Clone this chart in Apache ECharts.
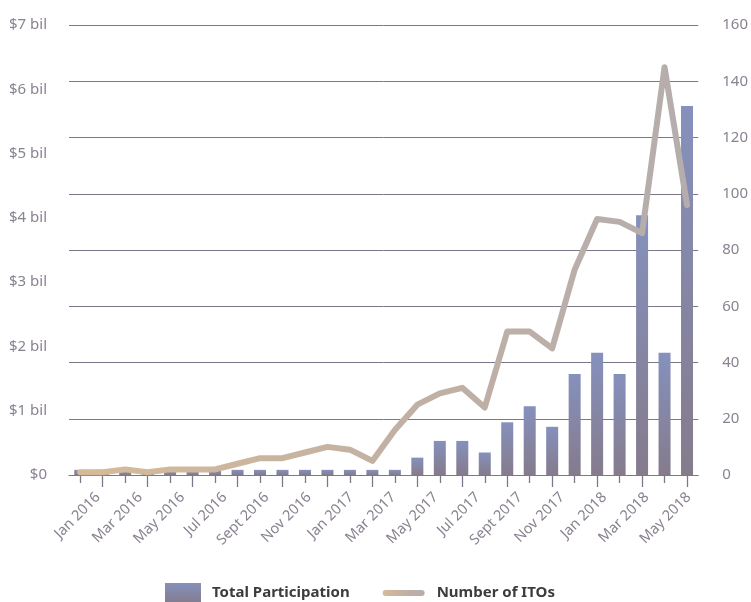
<!DOCTYPE html>
<html>
<head>
<meta charset="utf-8">
<script src="https://cdn.jsdelivr.net/npm/echarts@6/dist/echarts.min.js"></script>
<style>
  html, body { margin: 0; padding: 0; background: #fff; }
  #chart { width: 751px; height: 602px; }
</style>
</head>
<body>
<div id="chart"></div>
<script>
// 28 monthly periods (one bar each)
var periods = ['Jan 2016', 'Feb 2016', 'Mar 2016', 'Apr 2016', 'May 2016', 'Jun 2016', 'Jul 2016',
    'Aug 2016', 'Sept 2016', 'Oct 2016', 'Nov 2016', 'Dec 2016', 'Jan 2017', 'Feb 2017', 'Mar 2017',
    'Apr 2017', 'May 2017', 'Jun 2017', 'Jul 2017', 'Aug 2017', 'Sept 2017', 'Oct 2017', 'Nov 2017',
    'Dec 2017', 'Jan 2018', 'Feb 2018', 'Apr 2018', 'May 2018'];
// tick labels printed under the axis
var monthLabels = ['Jan 2016', 'Mar 2016', 'May 2016', 'Jul 2016', 'Sept 2016', 'Nov 2016', 'Jan 2017',
    'Mar 2017', 'May 2017', 'Jul 2017', 'Sept 2017', 'Nov 2017', 'Jan 2018', 'Mar 2018', 'May 2018'];
// total participation, $ billions
var participation = [0.08, 0.08, 0.08, 0.08, 0.08, 0.08, 0.08, 0.08, 0.08, 0.08, 0.08, 0.08, 0.08, 0.08, 0.08,
    0.27, 0.53, 0.53, 0.35, 0.82, 1.07, 0.75, 1.57, 1.9, 1.57, 4.04, 1.9, 5.74];
// number of ITOs
var itoCount = [1, 1, 2, 1, 2, 2, 2, 4, 6, 6, 8, 10, 9, 5, 16, 25, 29, 31, 24, 51, 51, 45, 73, 91, 90, 86, 145, 96];

var leftTicks = ['$0', '$1 bil', '$2 bil', '$3 bil', '$4 bil', '$5 bil', '$6 bil', '$7 bil'];

var lineCol = '#7d7889';
var textCol = '#8a8290';
var font = 'Noto Sans';

var barGrad = {
    type: 'linear', x: 0, y: 0, x2: 0, y2: 1,
    colorStops: [{ offset: 0, color: '#8591bd' }, { offset: 1, color: '#857b8c' }]
};
var lineGrad = {
    type: 'linear', x: 0, y: 0, x2: 1, y2: 0,
    colorStops: [{ offset: 0, color: '#d6bb98' }, { offset: 0.5, color: '#c2b1a3' }, { offset: 1, color: '#b5adad' }]
};

var option = {
    animation: false,
    textStyle: { fontFamily: font },
    grid: [
        { left: 69, right: 48, top: 25, bottom: 127 },
        // only used to place the month labels
        { left: 76.9, right: 41.1, top: 25, bottom: 127 }
    ],
    legend: {
        left: 165,
        top: 583,
        padding: 0,
        itemWidth: 36,
        itemHeight: 20,
        itemGap: 33,
        textStyle: { color: '#3c3c3c', fontSize: 15, fontWeight: 'bold', fontFamily: font, padding: [0, 0, 0, 6] },
        data: [
            { name: 'Total Participation', icon: 'rect' },
            {
                name: 'Number of ITOs',
                itemStyle: { color: 'rgba(0,0,0,0)', borderWidth: 0 },
                lineStyle: { width: 6, cap: 'round' },
                textStyle: { padding: [0, 0, 0, 10] }
            }
        ]
    },
    xAxis: [
        {
            type: 'category',
            gridIndex: 0,
            position: 'bottom',
            data: periods,
            boundaryGap: true,
            axisLine: { show: true, lineStyle: { color: lineCol, width: 1 } },
            axisTick: {
                show: true, alignWithLabel: true, length: 8,
                interval: function (i) { return i % 2 === 0; },
                lineStyle: { color: lineCol, width: 1.3 }
            },
            axisLabel: { show: false },
            splitLine: { show: false }
        },
        {
            type: 'category',
            gridIndex: 0,
            position: 'bottom',
            data: periods,
            boundaryGap: true,
            axisLine: { show: false },
            axisTick: {
                show: true, alignWithLabel: true, length: 12,
                interval: function (i) { return i % 2 === 1; },
                lineStyle: { color: lineCol, width: 1.3 }
            },
            axisLabel: { show: false },
            splitLine: { show: false }
        },
        {
            type: 'category',
            gridIndex: 1,
            position: 'bottom',
            data: monthLabels,
            boundaryGap: true,
            axisLine: { show: false },
            axisTick: { show: false },
            axisLabel: {
                interval: 0, rotate: 45, margin: 20,
                color: textCol, fontSize: 14.5, fontFamily: font
            },
            splitLine: { show: false }
        }
    ],
    yAxis: [
        {
            type: 'value',
            gridIndex: 0,
            position: 'left',
            min: 0, max: 7, interval: 1,
            axisLine: { show: false },
            axisTick: { show: false },
            splitLine: { show: false },
            axisLabel: {
                margin: 22, color: textCol, fontSize: 15, fontFamily: font,
                padding: [0, 0, 9, 0],
                formatter: function (v) { return leftTicks[v]; }
            }
        },
        {
            type: 'value',
            gridIndex: 0,
            position: 'right',
            min: 0, max: 160, interval: 20,
            axisLine: { show: false },
            axisTick: { show: false },
            splitLine: { show: true, lineStyle: { color: lineCol, width: 1 } },
            axisLabel: {
                margin: 24, color: textCol, fontSize: 15, fontFamily: font,
                padding: [0, 0, 9, 0]
            }
        },
        { type: 'value', gridIndex: 1, show: false }
    ],
    series: [
        {
            name: 'Total Participation',
            type: 'bar',
            xAxisIndex: 0,
            yAxisIndex: 0,
            barWidth: 12,
            data: participation,
            itemStyle: { color: barGrad },
            z: 2
        },
        {
            name: 'Number of ITOs',
            type: 'line',
            xAxisIndex: 0,
            yAxisIndex: 1,
            data: itoCount,
            symbol: 'none',
            lineStyle: { color: lineGrad, width: 6, cap: 'round', join: 'round' },
            itemStyle: { color: lineGrad },
            z: 3
        }
    ]
};

var myChart = echarts.init(document.getElementById('chart'));
myChart.setOption(option);
</script>
</body>
</html>
